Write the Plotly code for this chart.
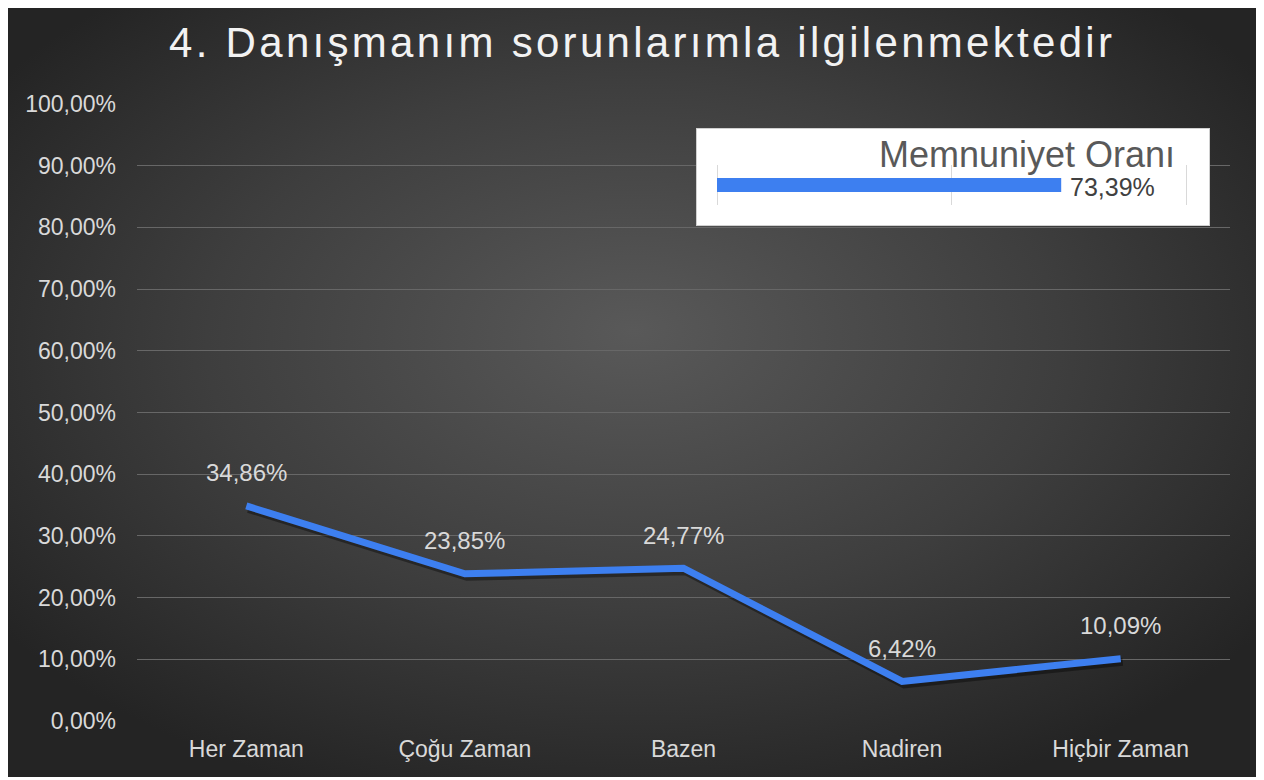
import base64
import plotly.graph_objects as go

categories = ["Her Zaman", "Çoğu Zaman", "Bazen", "Nadiren", "Hiçbir Zaman"]
values = [0.3486, 0.2385, 0.2477, 0.0642, 0.1009]
title_text = "4. Danışmanım sorunlarımla ilgilenmektedir"

inset_title = "Memnuniyet Oranı"
inset_category = ["Memnuniyet"]
inset_value = [0.7339]

FONT = "Liberation Sans, Arial, sans-serif"
OFF = 8                      # page body margin
W, H = 1264 - OFF, 780 - OFF
L, T = 137 - OFF, 104 - OFF
R, B = 34, 59
pw, ph = W - L - R, H - T - B


def px_x(x):                 # reference pixel -> paper fraction
    return (x - OFF - L) / pw


def px_y(y):
    return (H - B - (y - OFF)) / ph


def pct(v):
    return f"{v*100:.2f}%".replace(".", ",")


svg = f'''<svg xmlns="http://www.w3.org/2000/svg" width="{W}" height="{H}" viewBox="0 0 {W} {H}">
<defs><radialGradient id="g" cx="50%" cy="45%" r="62%" fx="50%" fy="42%">
<stop offset="0%" stop-color="#595959"/>
<stop offset="55%" stop-color="#3e3e3e"/>
<stop offset="100%" stop-color="#242424"/>
</radialGradient></defs>
<rect x="0" y="0" width="{1259 - OFF}" height="{777 - OFF}" fill="url(#g)"/>
</svg>'''
svg_uri = "data:image/svg+xml;base64," + base64.b64encode(svg.encode()).decode()

fig = go.Figure()

# line shadow (hidden base axes with slightly shifted ranges)
fig.add_trace(go.Scatter(
    x=categories, y=values, mode="lines",
    line=dict(color="rgba(0,0,0,0.38)", width=8),
    xaxis="x", yaxis="y", hoverinfo="skip", showlegend=False,
))

# main line on the visible overlay axes
fig.add_trace(go.Scatter(
    x=categories, y=values, mode="lines",
    line=dict(color="#3d7ff0", width=7),
    xaxis="x3", yaxis="y3", showlegend=False,
))

for c, v in zip(categories, values):
    fig.add_annotation(
        x=c, y=v, xref="x3", yref="y3", text=pct(v),
        showarrow=False, yshift=33,
        font=dict(family=FONT, size=24, color="#d9d9d9"),
    )

# inset: x2/y2 subplot spans the white box
bx0, bx1 = 696, 1210            # white box, reference px
by0, by1 = 128, 226
ax0, ax1 = 717, 1186            # inset value axis 0 .. 1
bar_c = 185                     # bar centre
upx = (ax1 - ax0)               # px per unit
x2_range = [-(ax0 - bx0) / upx, 1 + (bx1 - ax1) / upx]
vpx = (by1 - by0)
y2_range = [-(by1 - bar_c) / vpx, (bar_c - by0) / vpx]

fig.add_shape(
    type="rect", xref="x2", yref="y2",
    x0=x2_range[0], x1=x2_range[1], y0=y2_range[0], y1=y2_range[1],
    fillcolor="white", line=dict(color="#d0d0d0", width=2), layer="below",
)

fig.add_trace(go.Bar(
    x=inset_value, y=inset_category, orientation="h",
    xaxis="x2", yaxis="y2", width=14 / vpx,
    marker=dict(color="#3d7ff0", line=dict(width=0)),
    showlegend=False,
))

for c, v in zip(inset_category, inset_value):
    fig.add_annotation(
        x=v, y=c, xref="x2", yref="y2", text=pct(v),
        xanchor="left", yanchor="middle", xshift=7, yshift=-2,
        showarrow=False,
        font=dict(family=FONT, size=25, color="#404040"),
    )

fig.add_annotation(
    xref="paper", yref="paper", x=px_x(1177), y=px_y(154),
    xanchor="right", yanchor="middle", text=inset_title, showarrow=False,
    font=dict(family=FONT, size=36, color="#595959"),
)

fig.add_annotation(
    xref="paper", yref="paper", x=px_x(642), y=px_y(43),
    xanchor="center", yanchor="middle",
    text=f'<span style="letter-spacing:3.3px">{title_text}</span>',
    showarrow=False,
    font=dict(family=FONT, size=42, color="#f2f2f2"),
)

dx = 2 / (pw / 5)
dy = 3 / ph

fig.update_layout(
    width=W, height=H,
    margin=dict(l=L, r=R, t=T, b=B),
    paper_bgcolor="white",
    plot_bgcolor="rgba(0,0,0,0)",
    separators=",.",
    images=[dict(source=svg_uri, xref="paper", yref="paper",
                 x=-L / pw, y=1 + T / ph, sizex=W / pw, sizey=H / ph,
                 xanchor="left", yanchor="top", sizing="stretch", layer="below")],
    xaxis=dict(type="category", range=[-0.5 - dx, 4.5 - dx], visible=False),
    yaxis=dict(range=[0 + dy, 1 + dy], visible=False),
    xaxis3=dict(
        type="category", range=[-0.5, 4.5], overlaying="x", anchor="y3",
        showgrid=False, zeroline=False, showline=False, ticks="",
        ticklabelstandoff=12,
        tickfont=dict(family=FONT, size=23, color="#d9d9d9"),
    ),
    yaxis3=dict(
        range=[0, 1], dtick=0.1, tickformat=".2%", overlaying="y", anchor="x3",
        side="left", showgrid=True, gridcolor="#676767", gridwidth=1,
        zeroline=False, showline=False, ticks="", ticklabelstandoff=20,
        tickfont=dict(family=FONT, size=23, color="#d9d9d9"),
    ),
    xaxis2=dict(
        range=x2_range, tickvals=[0, 0.5, 1], showgrid=False, zeroline=False,
        showticklabels=False, ticks="inside", ticklen=40, tickwidth=1,
        tickcolor="#d9d9d9", showline=False, layer="below traces",
        domain=[px_x(bx0), px_x(bx1)], anchor="free", position=px_y(205),
    ),
    yaxis2=dict(
        type="category", range=y2_range, visible=False,
        domain=[px_y(by1), px_y(by0)], anchor="x2",
    ),
    font=dict(family=FONT),
)

fig.write_html("out.html")
